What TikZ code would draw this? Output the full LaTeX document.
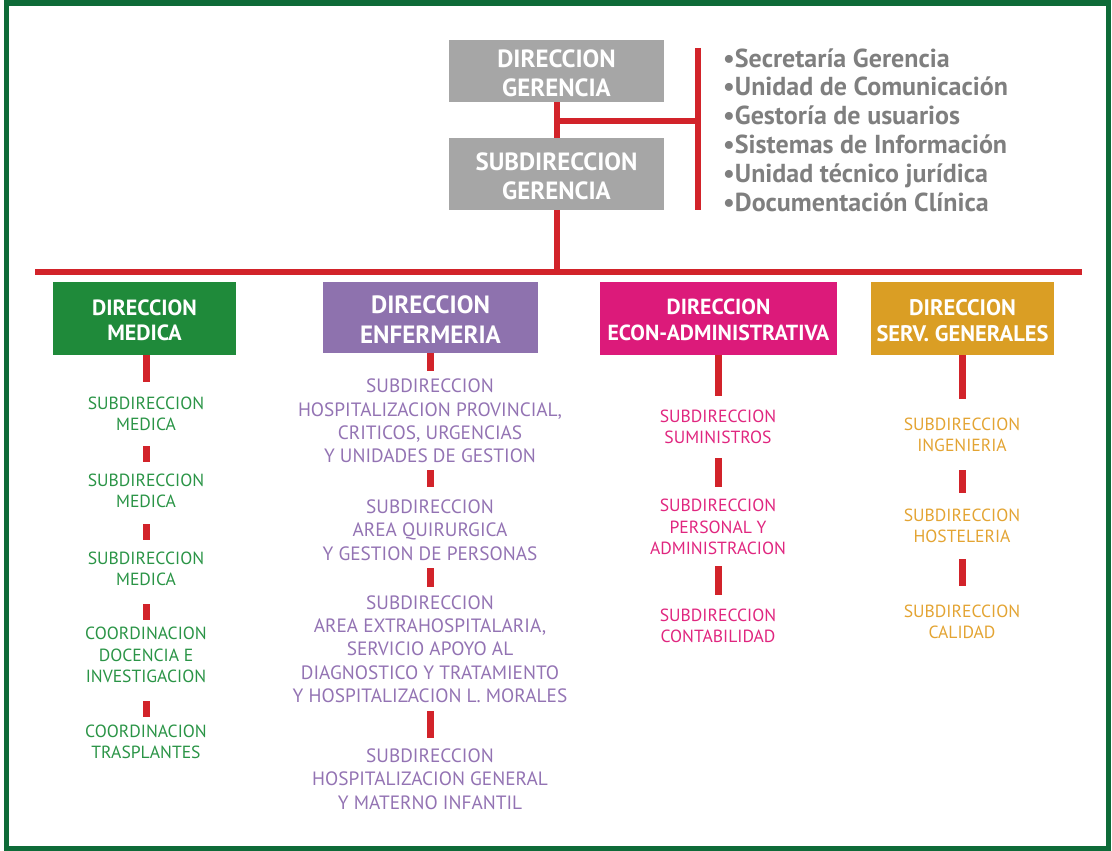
\documentclass[tikz,border=0pt]{standalone}
\usepackage{fontspec}
\setmainfont{PT Sans}
\definecolor{redc}{HTML}{D2232A}
\definecolor{framec}{HTML}{0E6B38}
\definecolor{greyc}{HTML}{A6A6A6}
\definecolor{listc}{HTML}{7F7F7F}
\definecolor{greenb}{HTML}{1F8A3A}
\definecolor{greent}{HTML}{2A9446}
\definecolor{purpb}{HTML}{8E72AE}
\definecolor{purpt}{HTML}{9373B3}
\definecolor{magb}{HTML}{DC1A7A}
\definecolor{magt}{HTML}{E0267F}
\definecolor{goldb}{HTML}{DA9E24}
\definecolor{goldt}{HTML}{E3A433}
\newcommand\mytstrut{\rule{0pt}{\dimexpr\fontcharht\font`D+4pt\relax}}
\begin{document}
\begin{tikzpicture}[x=1pt,y=-1pt,
  redl/.style={draw=redc,line width=6pt},
  stub/.style={draw=redc,line width=7pt},
  hbox/.style={fill=#1,text=white,align=center,inner sep=0pt},
  subt/.style={text=#1,align=center,inner sep=0pt,font=\fontsize{17.6}{21.5}\selectfont},
  subp/.style={text=#1,align=center,inner sep=0pt,font=\fontsize{19.3}{23.3}\selectfont},
]
\useasboundingbox (0,0) rectangle (1112,851);
\draw[draw=framec,line width=5.5pt] (6.5,3) rectangle (1108.5,849);

% top boxes
\node[hbox=greyc,minimum width=215pt,minimum height=62pt,font=\bfseries\fontsize{24.9}{29}\selectfont] (g1) at (556.5,71) {\mytstrut DIRECCION\\GERENCIA};
\node[hbox=greyc,minimum width=215pt,minimum height=72pt,font=\bfseries\fontsize{24.9}{29}\selectfont] (g2) at (556.5,174) {\mytstrut SUBDIRECCION\\GERENCIA};

\coordinate (hl) at (35,272);
\coordinate (hr) at (1082,272);
\coordinate (bt) at (698,48);
\coordinate (bb) at (698,210);
\coordinate (br) at (698,121);

\draw[redl] (g1.south) -- (g2.north);
\draw[redl] (g2.south) -- (g2.south |- hl);
\draw[redl] (hl) -- (hr);
\draw[redl] (bt) -- (bb);
\draw[redl] (g1.south |- br) -- (br);

\node[anchor=west,align=left,inner sep=0pt,text=listc,font=\bfseries\fontsize{26}{28.8}\selectfont] (list) at (723,130)
 {•Secretaría Gerencia\\•Unidad de Comunicación\\•Gestoría de usuarios\\•Sistemas de Información\\•Unidad técnico jurídica\\•Documentación Clínica};

% direction boxes
\node[hbox=greenb,minimum width=183pt,minimum height=73pt,font=\bfseries\fontsize{22}{25}\selectfont] (d1) at (144.5,318.5) {\mytstrut DIRECCION\\MEDICA};
\node[hbox=purpb,minimum width=215pt,minimum height=71pt,font=\bfseries\fontsize{25}{30}\selectfont] (d2) at (430.5,317.5) {\mytstrut DIRECCION\\ENFERMERIA};
\node[hbox=magb,minimum width=237pt,minimum height=73pt,font=\bfseries\fontsize{21.8}{26}\selectfont] (d3) at (718.5,318.5) {\mytstrut DIRECCION\\ECON-ADMINISTRATIVA};
\node[hbox=goldb,minimum width=183pt,minimum height=73pt,font=\bfseries\fontsize{22.5}{26}\selectfont] (d4) at (962.5,318.5) {\mytstrut DIRECCION\\SERV. GENERALES};

% medical column
\node[subt=greent] (m1) at (146,414) {SUBDIRECCION\\MEDICA};
\node[subt=greent] (m2) at (146,491) {SUBDIRECCION\\MEDICA};
\node[subt=greent] (m3) at (146,569) {SUBDIRECCION\\MEDICA};
\node[subt=greent] (m4) at (146,655) {COORDINACION\\DOCENCIA E\\INVESTIGACION};
\node[subt=greent] (m5) at (146,742) {COORDINACION\\TRASPLANTES};
\draw[stub] (d1.south -| m1) -- (m1 |- 0,382);
\draw[stub] (m1 |- 0,446) -- (m2 |- 0,462);
\draw[stub] (m2 |- 0,524) -- (m3 |- 0,540);
\draw[stub] (m3 |- 0,604) -- (m4 |- 0,620);
\draw[stub] (m4 |- 0,701) -- (m5 |- 0,717);

% nursing column
\node[subp=purpt] (p1) at (430,421) {SUBDIRECCION\\HOSPITALIZACION PROVINCIAL,\\CRITICOS, URGENCIAS\\Y UNIDADES DE GESTION};
\node[subp=purpt] (p2) at (430,530) {SUBDIRECCION\\AREA QUIRURGICA\\Y GESTION DE PERSONAS};
\node[subp=purpt] (p3) at (430,649) {SUBDIRECCION\\AREA EXTRAHOSPITALARIA,\\SERVICIO APOYO AL\\DIAGNOSTICO Y TRATAMIENTO\\Y HOSPITALIZACION L. MORALES};
\node[subp=purpt] (p4) at (430,779) {SUBDIRECCION\\HOSPITALIZACION GENERAL\\Y MATERNO INFANTIL};
\draw[stub] (d2.south -| p1) -- (p1 |- 0,371);
\draw[stub] (p1 |- 0,470) -- (p2 |- 0,487);
\draw[stub] (p2 |- 0,568) -- (p3 |- 0,587);
\draw[stub] (p3 |- 0,711) -- (p4 |- 0,738);

% economic column
\node[subt=magt] (e1) at (718,427) {SUBDIRECCION\\SUMINISTROS};
\node[subt=magt] (e2) at (718,527) {SUBDIRECCION\\PERSONAL Y\\ADMINISTRACION};
\node[subt=magt] (e3) at (718,626) {SUBDIRECCION\\CONTABILIDAD};
\draw[stub] (d3.south -| e1) -- (e1 |- 0,396);
\draw[stub] (e1 |- 0,458) -- (e2 |- 0,487);
\draw[stub] (e2 |- 0,566) -- (e3 |- 0,595);

% general services column
\node[subt=goldt] (s1) at (962,435) {SUBDIRECCION\\INGENIERIA};
\node[subt=goldt] (s2) at (962,526) {SUBDIRECCION\\HOSTELERIA};
\node[subt=goldt] (s3) at (962,622) {SUBDIRECCION\\CALIDAD};
\draw[stub] (d4.south -| s1) -- (s1 |- 0,399);
\draw[stub] (s1 |- 0,470) -- (s2 |- 0,493);
\draw[stub] (s2 |- 0,559) -- (s3 |- 0,586);
\end{tikzpicture}
\end{document}
